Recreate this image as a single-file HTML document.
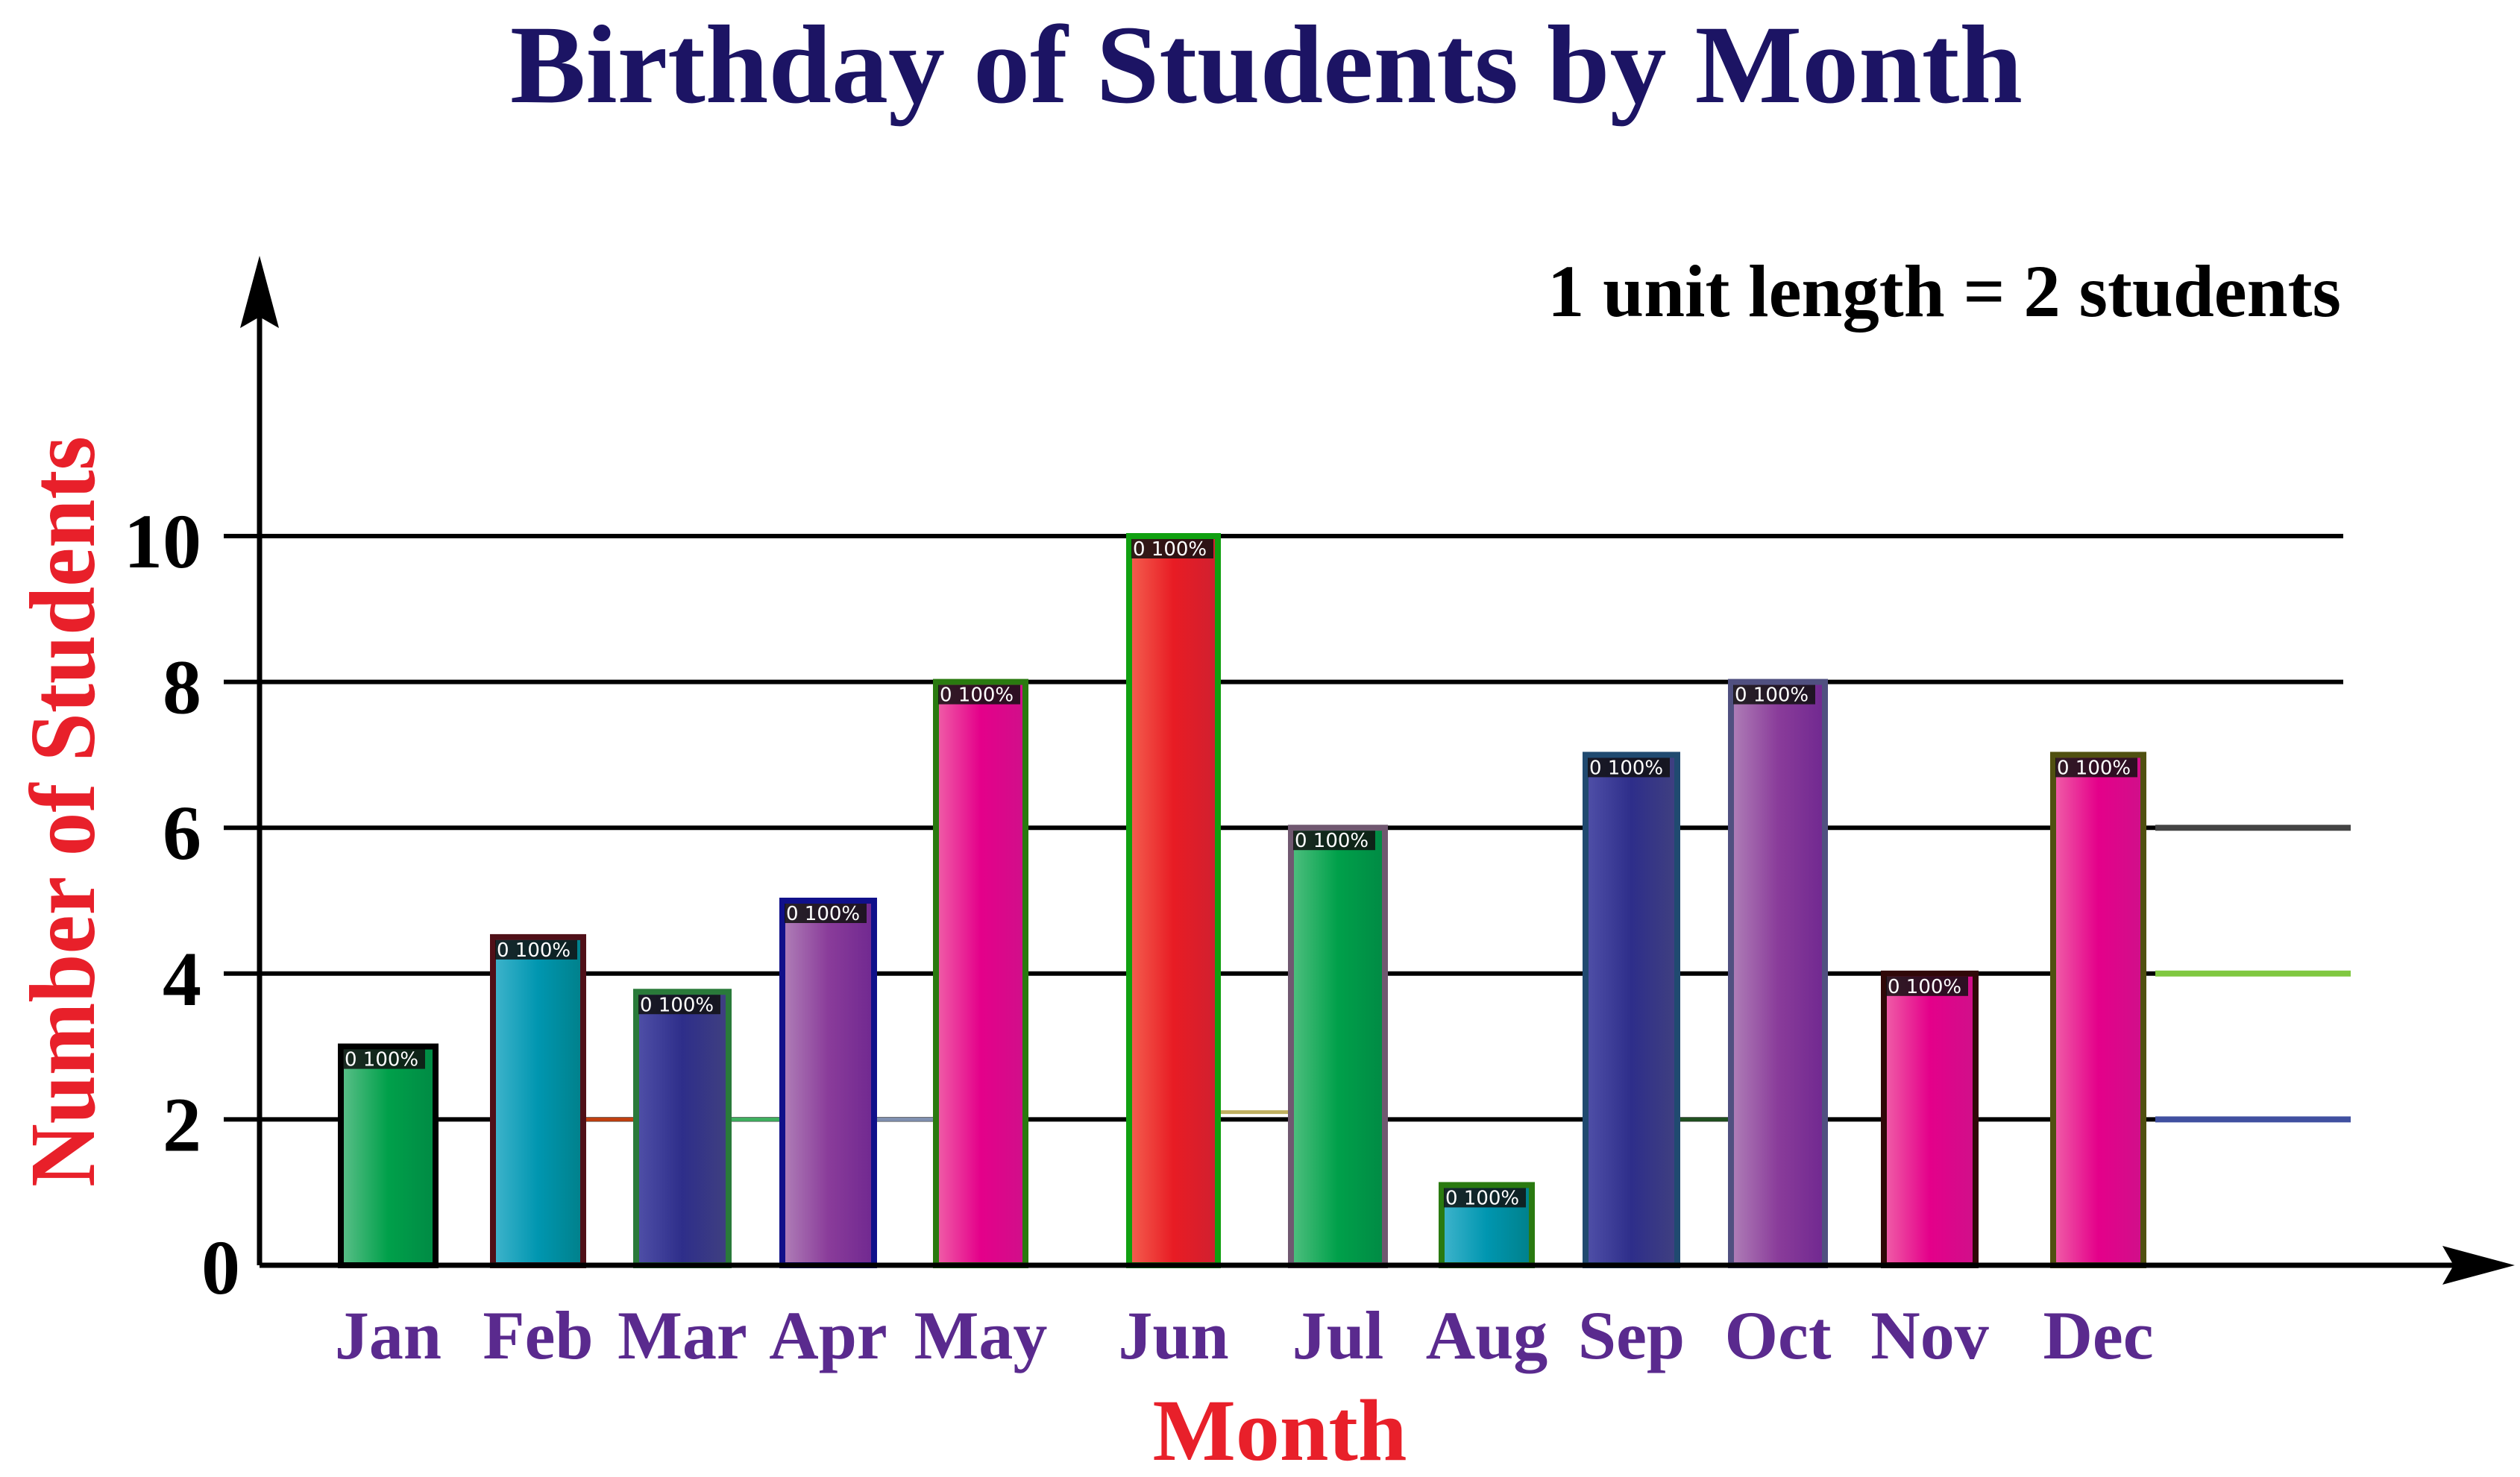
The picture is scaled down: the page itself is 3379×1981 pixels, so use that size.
<!DOCTYPE html>
<html><head><meta charset="utf-8"><style>
html,body{margin:0;padding:0;background:#fff;}
svg{display:block;font-family:"Liberation Serif",serif;}
</style></head><body>
<svg id="chart" width="3379" height="1981" viewBox="0 0 3379 1981" xmlns="http://www.w3.org/2000/svg">
<defs id="defs"></defs>
<text x="684" y="137" font-size="150" font-weight="bold" fill="#1c1464" textLength="2028" lengthAdjust="spacingAndGlyphs">Birthday of Students by Month</text>
<text x="2075" y="424" font-size="100" font-weight="bold" fill="#000" textLength="1064" lengthAdjust="spacingAndGlyphs">1 unit length = 2 students</text>
<text transform="translate(126,1592) rotate(-90)" font-size="125" font-weight="bold" fill="#e8202a" textLength="1007" lengthAdjust="spacingAndGlyphs">Number of Students</text>
<text x="1716" y="1958" font-size="118" font-weight="bold" fill="#e8202a" text-anchor="middle">Month</text>
<g id="grid"></g>
<g id="bars"></g>
<g id="axes"></g>
</svg>
<script>
const months = ["Jan","Feb","Mar","Apr","May","Jun","Jul","Aug","Sep","Oct","Nov","Dec"];
const counts = [3,4.5,3.75,5,8,10,6,1.1,7,8,4,7];
const yTicks = [0,2,4,6,8,10];
const gapValues = [2,2,2,2.1,2];
const colors = [
 ["#5cc08a","#00a04a","#008a44"],["#40b4cc","#0096b0","#00808a"],["#5050a8","#2e2e8a","#404080"],
 ["#b080b8","#8a3c9a","#702890"],["#f060a8","#e4008a","#d0108a"],["#f46050","#e81c24","#d02030"],
 ["#50c080","#00a04a","#008a44"],["#40b4cc","#0096b0","#00808a"],["#5050a8","#2e2e8a","#404080"],
 ["#b080b8","#8a3c9a","#702890"],["#f060a8","#e4008a","#d0108a"],["#f060a8","#e4008a","#d0108a"]];
const borders = ["#000","#501018","#2a7a3a","#10108a","#2a7a10","#10a010","#705870","#2a7a10","#204a70","#505080","#300808","#505010"];
const barLefts = [457,661,853,1049,1255,1514,1731,1933,2126,2321,2526,2753];
const barWidths = [127,121,124,123,120,119,126,121,123,126,123,121];
const gapBoxes = [[782,853,"#c04010"],[977,1049,"#40b060"],[1172,1255,"#8090b0"],[1633,1731,"#c0b060"],[2249,2321,"#205020"]];
const NS="http://www.w3.org/2000/svg";
const y0=1697, unit=97.8;
function yScale(v){return y0-v*unit;}
function mk(tag,attrs,parent){const e=document.createElementNS(NS,tag);for(const k in attrs)e.setAttribute(k,attrs[k]);parent.appendChild(e);return e;}
const grid=document.getElementById('grid'),bars=document.getElementById('bars'),axes=document.getElementById('axes'),defs=document.getElementById('defs');
yTicks.forEach(t=>{
 if(t>0){const l=mk('line',{x1:300,x2:3142,y1:yScale(t),y2:yScale(t),stroke:'#000','stroke-width':6},grid);
 
 }
 const tx=mk('text',{x:t===0?322:270,y:yScale(t)+(t===0?38:42),'font-size':104,'font-weight':'bold','text-anchor':'end',fill:'#000'},grid);
 tx.textContent=t;
 
 
});
// extra right lines
[[6,"#444"],[4,"#80c840"],[2,"#4050a0"]].forEach((d,i)=>{
 const l=mk('line',{x1:2890,x2:3152,y1:yScale(d[0]),y2:yScale(d[0]),stroke:d[1],'stroke-width':8},grid);
 
 
});
gapBoxes.forEach((g,i)=>{
 const top=yScale(gapValues[i]);
 const r=mk('rect',{x:g[0],y:top,width:g[1]-g[0],height:y0-top,fill:'none',stroke:g[2],'stroke-width':5},bars);
 
 
});
counts.forEach((v,i)=>{
 const gid='g'+i;const lg=mk('linearGradient',{id:gid,x1:0,x2:1,y1:0,y2:0},defs);
 mk('stop',{offset:'0','stop-color':colors[i][0]},lg);mk('stop',{offset:'0.5','stop-color':colors[i][1]},lg);mk('stop',{offset:'1','stop-color':colors[i][2]},lg);
 const top=yScale(v);
 const r=mk('rect',{x:barLefts[i],y:top,width:barWidths[i],height:y0-top,fill:'url(#'+gid+')',stroke:borders[i],'stroke-width':8},bars);
 
 
 const lb=mk('rect',{x:barLefts[i]+3,y:top+4,width:Math.min(barWidths[i]-6,110),height:26,fill:'#111','fill-opacity':0.85},bars);
 
 
 const lt=mk('text',{x:barLefts[i]+5,y:top+26,'font-size':26,fill:'#fff','font-family':'DejaVu Sans, sans-serif'},bars);
 lt.textContent='0 100%';
 
 
 const m=mk('text',{x:barLefts[i]+barWidths[i]/2,y:1822,'font-size':92,'font-weight':'bold','text-anchor':'middle',fill:'#5a2a8e'},bars);
 m.textContent=months[i];
 
 
});
const ya=mk('line',{x1:348,x2:348,y1:y0,y2:400,stroke:'#000','stroke-width':7},axes);


const yh=mk('polygon',{points:'348,343 322,440 348,425 374,440',fill:'#000'},axes);


const xa=mk('line',{x1:348,x2:3300,y1:y0,y2:y0,stroke:'#000','stroke-width':7},axes);


const xh=mk('polygon',{points:'3372,1697 3275,1671 3290,1697 3275,1723',fill:'#000'},axes);


</script>
</body></html>
